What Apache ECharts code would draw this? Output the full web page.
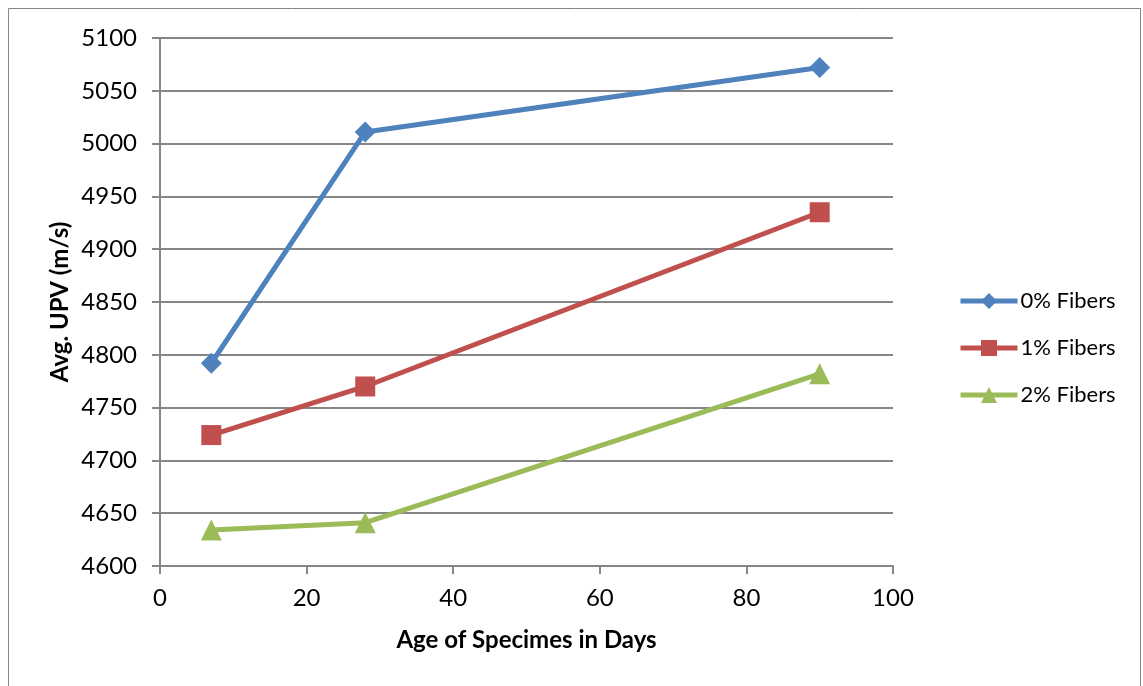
<!DOCTYPE html>
<html>
<head>
<meta charset="utf-8">
<script src="https://cdn.jsdelivr.net/npm/echarts@6/dist/echarts.min.js"></script>
<style>
  html, body { margin: 0; padding: 0; background: #fff; }
  #chart { width: 1143px; height: 686px; }
</style>
</head>
<body>
<div id="chart"></div>
<script>
// Specimen ages (days) and average ultrasonic pulse velocity (m/s)
const ages = [7, 28, 90];
const fibers0 = [4792, 5011, 5072];
const fibers1 = [4724, 4770, 4935];
const fibers2 = [4634, 4641, 4782];
const seriesNames = ['0% Fibers', '1% Fibers', '2% Fibers'];

const FONT = 'Lato, "Open Sans", sans-serif';
const gridColor = '#868686';

function pairs(vals) {
  return ages.map((a, i) => [a, vals[i]]);
}

const chart = echarts.init(document.getElementById('chart'));
chart.setOption({
  animation: false,
  backgroundColor: '#fff',
  graphic: [{
    type: 'rect',
    shape: { x: 8.5, y: 8.5, width: 1132, height: 700 },
    style: { fill: 'none', stroke: '#868686', lineWidth: 1 },
    silent: true
  }],
  grid: { left: 160, right: 250, top: 38, bottom: 120, containLabel: false },
  legend: {
    orient: 'vertical',
    left: 953,
    top: 285,
    itemGap: 25,
    itemWidth: 57,
    itemHeight: 20,
    lineStyle: { width: 5 },
    textStyle: { fontFamily: FONT, fontSize: 22, color: '#000', padding: [0, 0, 0, -2] },
    data: seriesNames
  },
  xAxis: {
    type: 'value',
    min: 0, max: 100, interval: 20,
    name: 'Age of Specimes in Days',
    nameLocation: 'middle',
    nameGap: 62,
    nameMoveOverlap: false,
    nameTextStyle: { fontFamily: FONT, fontSize: 24, fontWeight: 'bold', color: '#000' },
    axisLine: { show: true, lineStyle: { color: gridColor, width: 2 } },
    axisTick: { show: true, inside: false, length: 8, lineStyle: { color: gridColor, width: 2 } },
    axisLabel: { fontFamily: FONT, fontSize: 24, color: '#000', margin: 20 },
    splitLine: { show: false }
  },
  yAxis: {
    type: 'value',
    min: 4600, max: 5100, interval: 50,
    name: 'Avg. UPV (m/s)',
    nameLocation: 'middle',
    nameGap: 88,
    nameMoveOverlap: false,
    nameTextStyle: { fontFamily: FONT, fontSize: 24, fontWeight: 'bold', color: '#000' },
    axisLine: { show: true, lineStyle: { color: gridColor, width: 2 } },
    axisTick: { show: true, inside: false, length: 8, lineStyle: { color: gridColor, width: 2 } },
    axisLabel: { fontFamily: FONT, fontSize: 24, color: '#000', margin: 23, formatter: v => String(v) },
    splitLine: { show: true, lineStyle: { color: gridColor, width: 2 } }
  },
  series: [
    {
      name: seriesNames[0], type: 'line', data: pairs(fibers0),
      symbol: 'diamond', symbolSize: 21,
      lineStyle: { color: '#4F81BD', width: 5 },
      itemStyle: { color: '#4F81BD' }
    },
    {
      name: seriesNames[1], type: 'line', data: pairs(fibers1),
      symbol: 'rect', symbolSize: 20,
      lineStyle: { color: '#C0504D', width: 5 },
      itemStyle: { color: '#C0504D' }
    },
    {
      name: seriesNames[2], type: 'line', data: pairs(fibers2),
      symbol: 'triangle', symbolSize: 21,
      lineStyle: { color: '#9BBB59', width: 5 },
      itemStyle: { color: '#9BBB59' }
    }
  ]
});
</script>
</body>
</html>
